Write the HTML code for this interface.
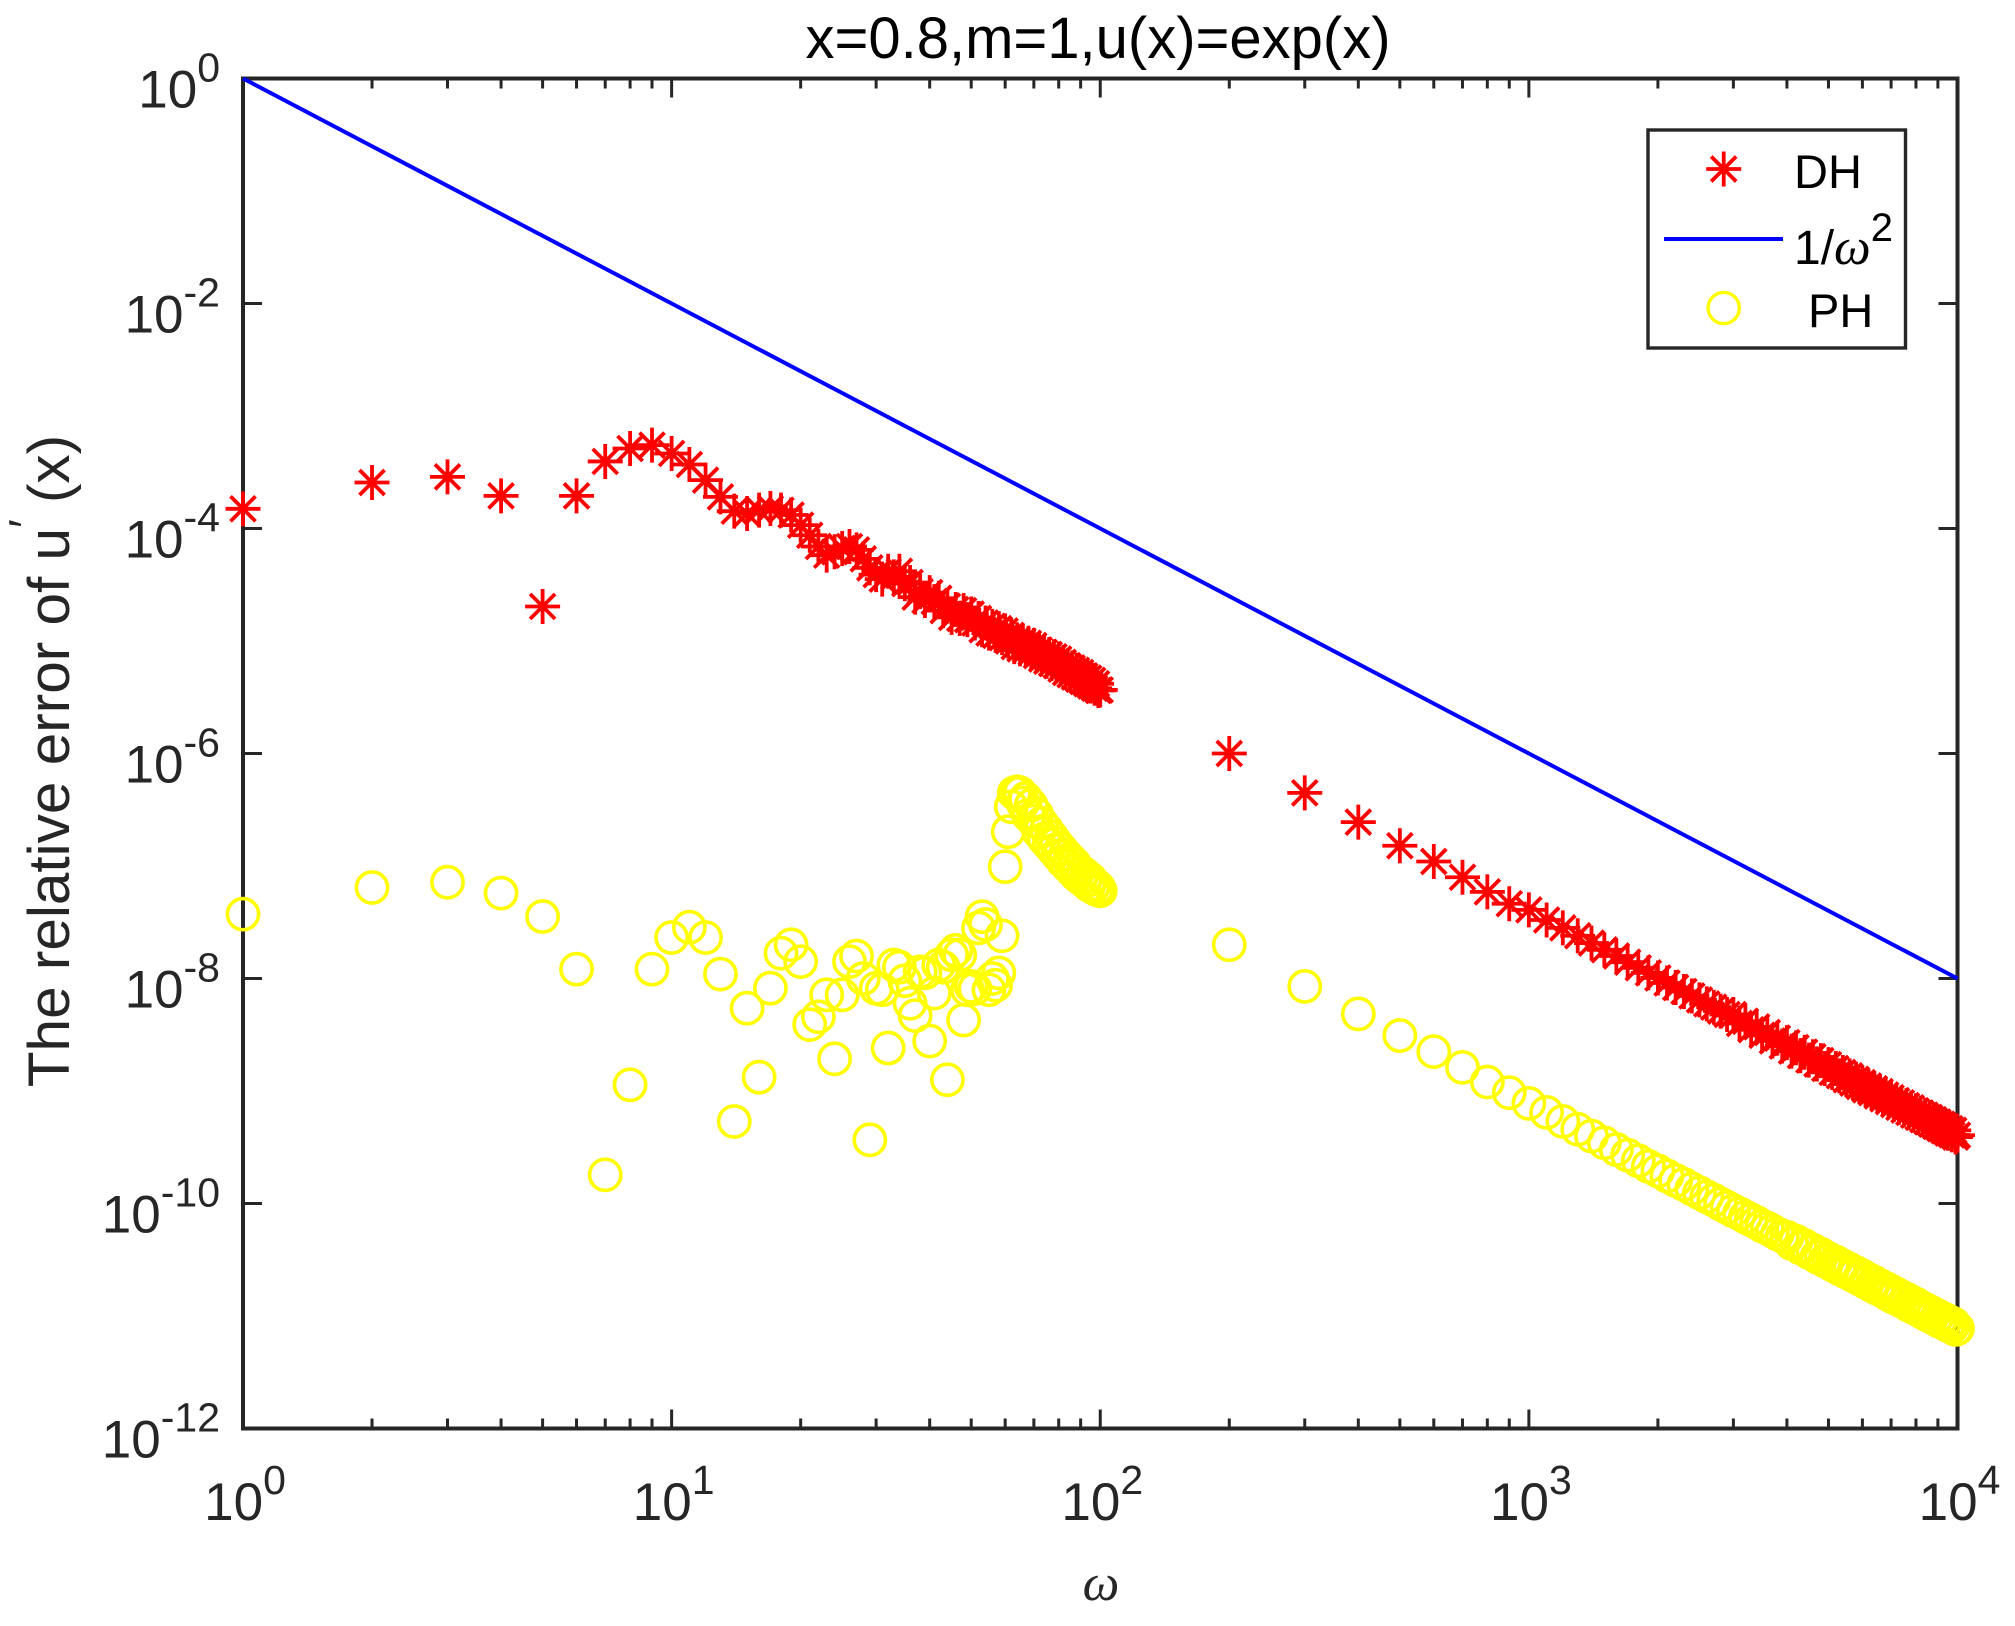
<!DOCTYPE html>
<html lang="en">
<head>
<meta charset="utf-8">
<title>x=0.8,m=1,u(x)=exp(x)</title>
<style>
html,body{margin:0;padding:0;background:#fff;width:2015px;height:1626px;overflow:hidden}
svg{display:block}
text{font-family:"Liberation Sans",sans-serif}
</style>
</head>
<body>
<svg id="chart" xmlns="http://www.w3.org/2000/svg" width="2015" height="1626" viewBox="0 0 2015 1626">
  <rect x="0" y="0" width="2015" height="1626" fill="#fff"/>
  <g id="axes"></g>
  <g id="x-tick-labels"></g>
  <g id="y-tick-labels"></g>
  <text x="1098" y="58" font-size="58" text-anchor="middle" fill="#000">x=0.8,m=1,u(x)=exp(x)</text>
  <text transform="translate(69,761) rotate(-90)" font-size="58.5" text-anchor="middle" fill="#262626">The relative error of u<tspan font-size="46" dy="-28">′</tspan><tspan dy="28"> (x)</tspan></text>
  <text x="1101" y="1600" font-size="52" text-anchor="middle" fill="#262626" style="font-family:'Liberation Serif',serif;font-style:italic">ω</text>
  <g id="series-dh"></g>
  <polyline id="series-reference" fill="none" stroke="#0000ff" stroke-width="4"/>
  <g id="series-ph"></g>
  <g id="legend">
    <rect x="1648" y="130" width="257.5" height="218" fill="#fff" stroke="#262626" stroke-width="3.4"/>
    <g>
      <g id="legend-star"></g>
      <text x="1794" y="188" font-size="47" fill="#000">DH</text>
    </g>
    <g>
      <line x1="1664" y1="239" x2="1783" y2="239" stroke="#0000ff" stroke-width="4"/>
      <text x="1794" y="264" font-size="48" fill="#000">1/<tspan font-size="52" style="font-family:'Liberation Serif',serif;font-style:italic">ω</tspan><tspan font-size="40" dy="-23">2</tspan></text>
    </g>
    <g>
      <circle cx="1723.7" cy="308" r="15.6" fill="none" stroke="#ffff00" stroke-width="3.4"/>
      <text x="1808" y="327" font-size="47" fill="#000">PH</text>
    </g>
  </g>
</svg>
<script>
// Chart data: omega values and log10 of each relative error series
const omega = [
  1,2,3,4,5,6,7,8,9,10,11,12,13,14,15,16,17,18,19,20,
  21,22,23,24,25,26,27,28,29,30,31,32,33,34,35,36,37,38,39,40,
  41,42,43,44,45,46,47,48,49,50,51,52,53,54,55,56,57,58,59,60,
  61,62,63,64,65,66,67,68,69,70,71,72,73,74,75,76,77,78,79,80,
  81,82,83,84,85,86,87,88,89,90,91,92,93,94,95,96,97,98,99,100,
  200,300,400,500,600,700,800,900,1000,1100,1200,1300,1400,1500,1600,1700,1800,1900,2000,
  2100,2200,2300,2400,2500,2600,2700,2800,2900,3000,3100,3200,3300,3400,3500,3600,3700,3800,3900,4000,
  4100,4200,4300,4400,4500,4600,4700,4800,4900,5000,5100,5200,5300,5400,5500,5600,5700,5800,5900,6000,
  6100,6200,6300,6400,6500,6600,6700,6800,6900,7000,7100,7200,7300,7400,7500,7600,7700,7800,7900,8000,
  8100,8200,8300,8400,8500,8600,8700,8800,8900,9000,9100,9200,9300,9400,9500,9600,9700,9800,9900,10000
];
const dhLogError = [
  -3.825,-3.591,-3.541,-3.710,-4.693,-3.710,-3.404,-3.289,-3.259,-3.333,
  -3.431,-3.570,-3.719,-3.846,-3.867,-3.837,-3.822,-3.837,-3.88,-3.97,
  -4.06,-4.16,-4.237,-4.207,-4.178,-4.16,-4.19,-4.27,-4.35,-4.41,
  -4.45,-4.38,-4.43,-4.38,-4.49,-4.48,-4.61,-4.56,-4.64,-4.57,
  -4.65,-4.62,-4.73,-4.69,-4.79,-4.72,-4.80,-4.73,-4.81,-4.76,
  -4.84,-4.80,-4.90,-4.84,-4.93,-4.87,-4.95,-4.89,-4.97,-4.91,
  -5.00,-4.95,-5.05,-4.99,-5.07,-5.00,-5.08,-5.02,-5.10,-5.04,
  -5.13,-5.08,-5.16,-5.10,-5.18,-5.12,-5.20,-5.14,-5.22,-5.16,
  -5.25,-5.19,-5.28,-5.22,-5.30,-5.24,-5.32,-5.26,-5.34,-5.28,
  -5.36,-5.31,-5.38,-5.33,-5.40,-5.35,-5.42,-5.38,-5.44,-5.435,
  -6.00,-6.35,-6.61,-6.82,-6.96,-7.10,-7.23,-7.335,-7.39,-7.48,-7.55,-7.62,-7.685,-7.745,-7.80,-7.855,-7.905,-7.95,-7.995,
  -8.04,-8.08,-8.115,-8.155,-8.19,-8.225,-8.255,-8.29,-8.32,-8.32,-8.40,-8.38,-8.455,-8.43,-8.505,-8.48,-8.555,-8.53,-8.60,-8.57,
  -8.645,-8.615,-8.685,-8.655,-8.725,-8.695,-8.76,-8.73,-8.80,-8.765,-8.835,-8.80,-8.865,-8.835,-8.90,-8.865,-8.93,-8.895,-8.96,-8.925,
  -8.99,-8.955,-9.015,-8.98,-9.045,-9.005,-9.07,-9.035,-9.095,-9.06,-9.12,-9.085,-9.145,-9.105,-9.17,-9.13,-9.19,-9.15,-9.215,-9.175,
  -9.235,-9.195,-9.255,-9.215,-9.275,-9.235,-9.295,-9.255,-9.315,-9.275,-9.335,-9.295,-9.355,-9.315,-9.375,-9.335,-9.39,-9.35,-9.41,-9.393
];
const phLogError = [
  -7.428,-7.191,-7.144,-7.241,-7.449,-7.917,-9.745,-8.945,-7.917,-7.636,
  -7.544,-7.636,-7.961,-9.271,-8.264,-8.877,-8.086,-7.775,-7.70,-7.85,
  -8.41,-8.34,-8.145,-8.714,-8.145,-7.85,-7.80,-8.00,-9.434,-8.087,
  -8.10,-8.618,-7.88,-7.90,-8.02,-8.22,-8.33,-7.94,-7.95,-8.556,
  -8.13,-7.88,-7.90,-8.90,-7.79,-7.75,-7.79,-8.369,-8.10,-8.07,
  -8.09,-7.55,-7.45,-7.52,-8.10,-8.00,-8.06,-7.95,-7.62,-7.006,
  -6.695,-6.473,-6.35,-6.34,-6.35,-6.44,-6.40,-6.55,-6.46,-6.60,
  -6.54,-6.70,-6.62,-6.76,-6.68,-6.81,-6.74,-6.86,-6.80,-6.91,
  -6.85,-6.96,-6.90,-7.00,-6.94,-7.04,-6.98,-7.08,-7.03,-7.11,
  -7.06,-7.14,-7.09,-7.17,-7.12,-7.19,-7.16,-7.21,-7.19,-7.22,
  -7.70,-8.07,-8.315,-8.507,-8.65,-8.79,-8.92,-9.015,-9.11,-9.19,-9.27,-9.34,-9.40,-9.46,-9.52,-9.57,-9.62,-9.67,-9.71,
  -9.755,-9.795,-9.83,-9.87,-9.905,-9.94,-9.97,-10.005,-10.035,-10.065,-10.09,-10.12,-10.145,-10.17,-10.20,-10.22,-10.245,-10.27,-10.29,-10.30,
  -10.355,-10.335,-10.395,-10.375,-10.435,-10.415,-10.475,-10.45,-10.51,-10.49,-10.545,-10.52,-10.58,-10.555,-10.61,-10.585,-10.64,-10.615,-10.67,-10.645,
  -10.70,-10.675,-10.73,-10.70,-10.755,-10.73,-10.78,-10.755,-10.81,-10.78,-10.835,-10.805,-10.855,-10.83,-10.88,-10.85,-10.905,-10.875,-10.925,-10.895,
  -10.945,-10.92,-10.97,-10.94,-10.99,-10.96,-11.01,-10.98,-11.03,-11.00,-11.05,-11.02,-11.065,-11.035,-11.085,-11.055,-11.10,-11.07,-11.12,-11.11
];
const referenceOmega = [1,10,100,1000,10000];
const referenceLogError = [0,-2,-4,-6,-8];
const xTickExponents = [0,1,2,3,4];
const xMinorMultipliers = [2,3,4,5,6,7,8,9];
const yTickExponents = [0,-2,-4,-6,-8,-10,-12];

const NS = 'http://www.w3.org/2000/svg';
const plotLeft = 243, plotRight = 1957.5, plotTop = 78.5, plotBottom = 1428.5;
const xDomain = [0,4], yDomain = [0,-12];
function xScale(v){ return plotLeft + (Math.log10(v) - xDomain[0]) / (xDomain[1] - xDomain[0]) * (plotRight - plotLeft); }
function yScale(logV){ return plotTop + (logV - yDomain[0]) / (yDomain[1] - yDomain[0]) * (plotBottom - plotTop); }
function make(tag, attrs){
  const el = document.createElementNS(NS, tag);
  for (const k in attrs) el.setAttribute(k, attrs[k]);
  return el;
}
const axesG = document.getElementById('axes');
const axisColor = '#262626';

const frame = make('rect', {x:plotLeft, y:plotTop, width:plotRight-plotLeft, height:plotBottom-plotTop, fill:'none', stroke:axisColor, 'stroke-width':4});


axesG.appendChild(frame);

function addTick(x1,y1,x2,y2,w){
  const t = make('line', {x1:x1, y1:y1, x2:x2, y2:y2, stroke:axisColor, 'stroke-width':w});
  
  
  axesG.appendChild(t);
}
xTickExponents.forEach(function(e){
  const base = Math.pow(10, e);
  const xp = xScale(base);
  if (e > xDomain[0] && e < xDomain[1]) {
    addTick(xp, plotBottom, xp, plotBottom-19, 3);
    addTick(xp, plotTop, xp, plotTop+19, 3);
  }
  if (e < xDomain[1]) {
    xMinorMultipliers.forEach(function(m){
      const xm = xScale(base*m);
      addTick(xm, plotBottom, xm, plotBottom-10, 3);
      addTick(xm, plotTop, xm, plotTop+10, 3);
    });
  }
});
yTickExponents.forEach(function(e){
  const yp = yScale(e);
  if (e < yDomain[0] && e > yDomain[1]) {
    addTick(plotLeft, yp, plotLeft+19, yp, 3);
    addTick(plotRight, yp, plotRight-19, yp, 3);
  }
});

function tickLabel(parent, x, y, anchor, exponent, name){
  const t = make('text', {x:x, y:y, 'text-anchor':anchor, 'font-size':53, fill:axisColor});
  
  
  t.appendChild(document.createTextNode('10'));
  const s = make('tspan', {'font-size':41, dy:-26});
  s.textContent = String(exponent);
  t.appendChild(s);
  parent.appendChild(t);
}
const xLabels = document.getElementById('x-tick-labels');
const yLabels = document.getElementById('y-tick-labels');
xTickExponents.forEach(function(e){
  tickLabel(xLabels, xScale(Math.pow(10,e)) + 2, 1520, 'middle', e, 'x-tick-label');
});
yTickExponents.forEach(function(e){
  tickLabel(yLabels, 220, yScale(e) + 29, 'end', e, 'y-tick-label');
});

function addStar(parent, cx, cy, name){
  const d = 'M'+(cx-17.5)+' '+cy+'H'+(cx+17.5)+'M'+cx+' '+(cy-17.5)+'V'+(cy+17.5)+
    'M'+(cx-12.5)+' '+(cy-12.5)+'L'+(cx+12.5)+' '+(cy+12.5)+'M'+(cx-12.5)+' '+(cy+12.5)+'L'+(cx+12.5)+' '+(cy-12.5);
  const p = make('path', {d:d, fill:'none', stroke:'#ff0000', 'stroke-width':3.8});
  
  
  parent.appendChild(p);
}
const dhG = document.getElementById('series-dh');
omega.forEach(function(w,i){
  addStar(dhG, xScale(w), yScale(dhLogError[i]), 'dh-point');
});

document.getElementById('series-reference').setAttribute('points',
  referenceOmega.map(function(w,i){ return xScale(w)+','+yScale(referenceLogError[i]); }).join(' '));

const phG = document.getElementById('series-ph');
omega.forEach(function(w,i){
  const c = make('circle', {cx:xScale(w), cy:yScale(phLogError[i]), r:15.6, fill:'none', stroke:'#ffff00', 'stroke-width':3.6});
  
  
  phG.appendChild(c);
});

addStar(document.getElementById('legend-star'), 1723.7, 169, 'legend-star-glyph');
</script>
</body>
</html>
